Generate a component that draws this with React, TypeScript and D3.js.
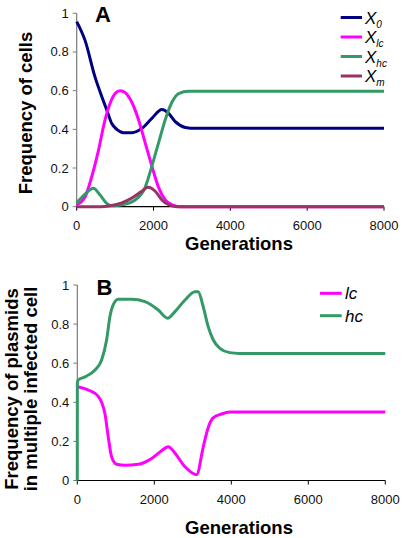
import React from "react";
import * as d3 from "d3";

// Panel A: frequency of cells [generation, value]
const x0Data: [number, number][] = [
  [0, 0.957], [217, 0.86], [478, 0.67], [652, 0.57], [783, 0.5], [913, 0.43], [1044, 0.4],
  [1218, 0.383], [1435, 0.383], [1696, 0.405], [1957, 0.457], [2218, 0.503], [2392, 0.483],
  [2566, 0.44], [2827, 0.41], [3088, 0.405], [4000, 0.405], [8000, 0.405],
];
const xlcData: [number, number][] = [
  [0, 0.01], [217, 0.05], [391, 0.155], [565, 0.29], [739, 0.45], [870, 0.535], [1000, 0.585],
  [1131, 0.6], [1261, 0.59], [1435, 0.54], [1609, 0.45], [1783, 0.33], [1957, 0.21],
  [2131, 0.1], [2305, 0.035], [2479, 0.01], [2700, 0.0], [8000, 0.0],
];
const xhcData: [number, number][] = [
  [0, 0.02], [217, 0.065], [435, 0.095], [609, 0.06], [783, 0.017], [913, 0.005], [1174, 0.01],
  [1522, 0.035], [1783, 0.1], [1957, 0.21], [2131, 0.33], [2305, 0.45], [2479, 0.54],
  [2653, 0.585], [2914, 0.597], [3200, 0.597], [8000, 0.597],
];
const xmData: [number, number][] = [
  [0, 0.0], [600, 0.0], [870, 0.005], [1174, 0.02], [1435, 0.045], [1696, 0.08], [1853, 0.1],
  [2044, 0.08], [2218, 0.035], [2392, 0.01], [2600, 0.0], [8000, 0.0],
];

// Panel B: frequency of plasmids in multiple infected cell
const lcData: [number, number][] = [
  [0, 0.48], [285, 0.463], [545, 0.43], [719, 0.34], [806, 0.22], [892, 0.12], [1022, 0.083],
  [1238, 0.078], [1584, 0.083], [1931, 0.113], [2174, 0.15], [2364, 0.173], [2537, 0.14],
  [2797, 0.07], [3100, 0.03], [3269, 0.17], [3399, 0.27], [3529, 0.32], [3745, 0.34],
  [3961, 0.35], [8000, 0.35],
];
const hcData: [number, number][] = [
  [0, 0.0], [1, 0.5], [26, 0.514], [199, 0.53], [459, 0.565], [632, 0.616], [762, 0.72],
  [849, 0.84], [935, 0.9], [1065, 0.927], [1411, 0.927], [1758, 0.915], [2104, 0.872],
  [2347, 0.83], [2537, 0.864], [2797, 0.923], [3057, 0.966], [3140, 0.965], [3269, 0.89],
  [3399, 0.787], [3529, 0.72], [3702, 0.676], [3961, 0.654], [4200, 0.65], [8000, 0.65],
];

const xTicks = [0, 2000, 4000, 6000, 8000];
const yTicks = [0, 0.2, 0.4, 0.6, 0.8, 1];
const yTickLabels = ["0", "0.2", "0.4", "0.6", "0.8", "1"];

const seriesA = [
  { key: "0", data: x0Data, color: "#000080" },
  { key: "lc", data: xlcData, color: "#FF00FF" },
  { key: "hc", data: xhcData, color: "#339966" },
  { key: "m", data: xmData, color: "#993366" },
];
const seriesB = [
  { key: "lc", data: lcData, color: "#FF00FF" },
  { key: "hc", data: hcData, color: "#339966" },
];

const FONT = "Arial, 'Liberation Sans', sans-serif";
const AXIS = "#7a7a7a";

function Axes({ x, y, yBottom }: { x: d3.ScaleLinear<number, number>; y: d3.ScaleLinear<number, number>; yBottom: number }) {
  const [xl, xr] = x.range();
  const [yb, yt] = y.range();
  return (
    <g>
      <line x1={xl} x2={xl} y1={yt} y2={yb} stroke={AXIS} strokeWidth={1.2} />
      <line x1={xl} x2={xr} y1={yb} y2={yb} stroke="#000" strokeWidth={1.2} />
      {yTicks.map((t, i) => (
        <g key={"y" + i}>
          <line x1={xl - 4} x2={xl} y1={y(t)} y2={y(t)} stroke={AXIS} strokeWidth={1} />
          <text x={xl - 8} y={y(t)} textAnchor="end" dominantBaseline="central" fontSize={13} fontFamily={FONT} fill="#111">
            {yTickLabels[i]}
          </text>
        </g>
      ))}
      {xTicks.map((t) => (
        <g key={"x" + t}>
          <line x1={x(t)} x2={x(t)} y1={yBottom} y2={yBottom + 4} stroke="#000" strokeWidth={1} />
          <text x={x(t)} y={yBottom + 19} textAnchor="middle" dominantBaseline="central" fontSize={13} fontFamily={FONT} fill="#111">
            {t}
          </text>
        </g>
      ))}
    </g>
  );
}

export default function App() {
  const xA = d3.scaleLinear().domain([0, 8000]).range([76.7, 384]);
  const yA = d3.scaleLinear().domain([0, 1]).range([206.7, 13.3]);
  const xB = d3.scaleLinear().domain([0, 8000]).range([77.3, 385.3]);
  const yB = d3.scaleLinear().domain([0, 1]).range([480.5, 285]);

  const lineA = d3.line<[number, number]>().x((d) => xA(d[0])).y((d) => yA(d[1])).curve(d3.curveMonotoneX);
  const lineB = d3.line<[number, number]>().x((d) => xB(d[0])).y((d) => yB(d[1])).curve(d3.curveMonotoneX);

  return (
    <svg width={404} height={538} style={{ position: "absolute", left: 0, top: 0, background: "#fff" }}>
      {/* Panel A */}
      <Axes x={xA} y={yA} yBottom={206.7} />
      {seriesA.map((s) => (
        <path key={s.key} d={lineA(s.data) || ""} fill="none" stroke={s.color} strokeWidth={3} strokeLinejoin="round" />
      ))}
      <text x={95} y={21.7} fontSize={22} fontWeight="bold" fontFamily={FONT}>A</text>
      <text transform="translate(25,113) rotate(-90)" textAnchor="middle" dominantBaseline="central" fontSize={18.5} fontWeight="bold" fontFamily={FONT}>
        Frequency of cells
      </text>
      <text x={239} y={243} textAnchor="middle" dominantBaseline="central" fontSize={18.5} fontWeight="bold" fontFamily={FONT}>
        Generations
      </text>
      {seriesA.map((s, i) => {
        const ly = 17.5 + i * 19.5;
        return (
          <g key={"leg" + s.key}>
            <line x1={340.7} x2={362} y1={ly} y2={ly} stroke={s.color} strokeWidth={3} />
            <text x={365} y={ly + 6} fontSize={17} fontStyle="italic" fontFamily={FONT}>
              X
              <tspan fontSize={10} dy={4}>{s.key}</tspan>
            </text>
          </g>
        );
      })}

      {/* Panel B */}
      <Axes x={xB} y={yB} yBottom={480.5} />
      {seriesB.map((s) => (
        <path key={s.key} d={lineB(s.data) || ""} fill="none" stroke={s.color} strokeWidth={3} strokeLinejoin="round" />
      ))}
      <text x={96.5} y={295} fontSize={22} fontWeight="bold" fontFamily={FONT}>B</text>
      <text transform="translate(11,389) rotate(-90)" textAnchor="middle" dominantBaseline="central" fontSize={18.5} fontWeight="bold" fontFamily={FONT}>
        Frequency of plasmids
      </text>
      <text transform="translate(30,389) rotate(-90)" textAnchor="middle" dominantBaseline="central" fontSize={18.5} fontWeight="bold" fontFamily={FONT}>
        in multiple infected cell
      </text>
      <text x={239} y={527} textAnchor="middle" dominantBaseline="central" fontSize={18.5} fontWeight="bold" fontFamily={FONT}>
        Generations
      </text>
      {seriesB.map((s, i) => {
        const ly = 293.3 + i * 22.4;
        return (
          <g key={"legB" + s.key}>
            <line x1={320} x2={341.7} y1={ly} y2={ly} stroke={s.color} strokeWidth={3} />
            <text x={345} y={ly + 6} fontSize={17} fontStyle="italic" fontFamily={FONT}>
              {s.key}
            </text>
          </g>
        );
      })}
    </svg>
  );
}
